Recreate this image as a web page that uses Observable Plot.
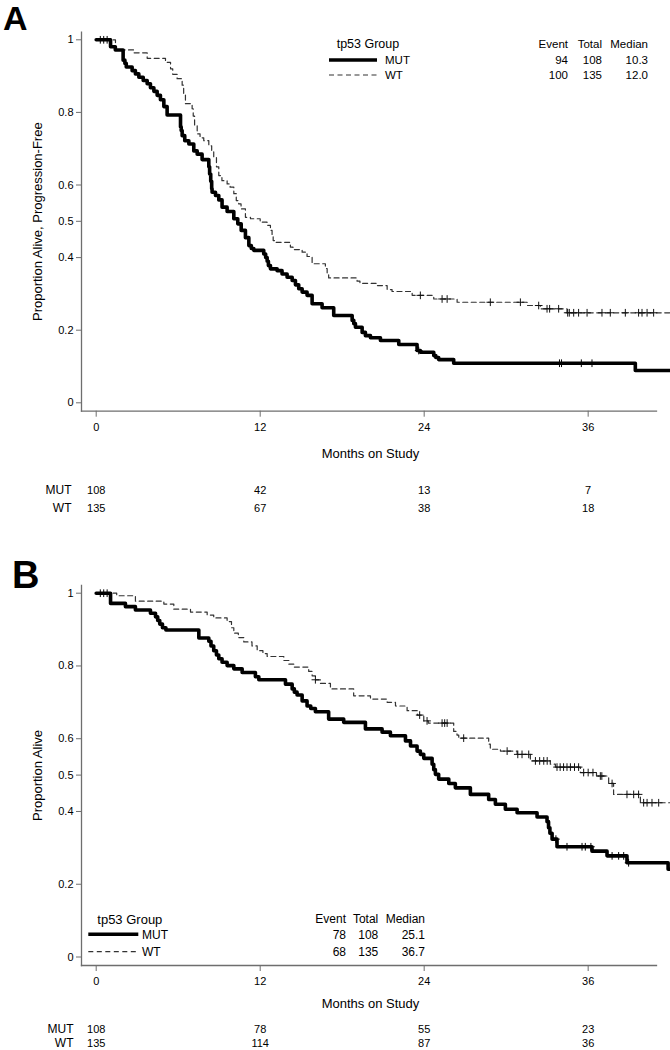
<!DOCTYPE html>
<html>
<head>
<meta charset="utf-8">
<script src="https://cdn.jsdelivr.net/npm/d3@7"></script>
<script src="https://cdn.jsdelivr.net/npm/@observablehq/plot@0.6"></script>
<style>
  body { margin: 0; background: #fff; }
  #wrap { position: relative; width: 670px; height: 1050px; overflow: hidden; background: #fff; }
  .panel { position: absolute; left: 0; width: 670px; height: 525px; }
  .letter { position: absolute; font-family: "Liberation Sans", Arial, sans-serif; font-weight: bold; line-height: 1; color: #000; }
</style>
</head>
<body>
<div id="wrap"></div>
<script>
// ---------------- data ----------------
const groups = ["MUT", "WT"];
const xTicks = [0, 12, 24, 36];
const yTicks = [0, 0.2, 0.4, 0.5, 0.6, 0.8, 1];
const xLabel = "Months on Study";
const yLabelA = "Proportion Alive, Progression-Free";
const yLabelB = "Proportion Alive";
const legendTitle = "tp53 Group";
const legendHeaders = ["Event", "Total", "Median"];

// Panel A: progression-free survival, [month, proportion]
const aMut = [[0,1],[1.05,0.981],[1.4,0.972],[1.97,0.944],[2.1,0.935],[2.2,0.925],[2.63,0.915],[2.87,0.906],[3.12,0.897],[3.44,0.888],[3.73,0.879],[3.97,0.868],[4.22,0.858],[4.46,0.847],[4.7,0.835],[4.95,0.816],[5.19,0.793],[6.17,0.76],[6.22,0.75],[6.29,0.736],[6.48,0.722],[6.78,0.713],[7.14,0.694],[7.39,0.685],[7.75,0.67],[8.24,0.65],[8.3,0.63],[8.38,0.61],[8.45,0.59],[8.48,0.58],[8.73,0.571],[8.97,0.559],[9.21,0.539],[9.58,0.527],[10.07,0.507],[10.36,0.493],[10.61,0.475],[10.92,0.455],[11.17,0.433],[11.35,0.425],[11.53,0.42],[12.26,0.41],[12.4,0.4],[12.51,0.39],[12.6,0.378],[12.75,0.369],[13.24,0.364],[13.6,0.355],[13.97,0.346],[14.34,0.337],[14.58,0.325],[14.82,0.314],[15.07,0.305],[15.43,0.296],[15.8,0.273],[16.53,0.262],[17.38,0.2405],[18.73,0.227],[18.85,0.218],[18.97,0.208],[19.46,0.194],[19.7,0.185],[20.07,0.179],[20.8,0.1716],[22.14,0.1606],[23.48,0.144],[23.72,0.1394],[24.7,0.13],[24.85,0.125],[25.06,0.119],[26.16,0.109],[39.45,0.089],[42,0.089]];
const aWt = [[0,1],[1.41,0.972],[2.75,0.964],[3.73,0.949],[5.07,0.938],[5.44,0.92],[5.6,0.905],[5.92,0.893],[6.29,0.875],[6.4,0.85],[6.53,0.824],[7.02,0.81],[7.1,0.79],[7.2,0.765],[7.39,0.741],[7.6,0.73],[7.87,0.722],[8.24,0.708],[8.45,0.695],[8.6,0.677],[8.8,0.65],[8.97,0.626],[9.2,0.612],[9.58,0.603],[9.8,0.594],[10.07,0.576],[10.25,0.557],[10.43,0.548],[10.6,0.534],[10.92,0.511],[11.29,0.507],[12.0,0.4975],[12.5,0.489],[12.75,0.475],[12.87,0.46],[12.95,0.447],[13.12,0.442],[14.21,0.429],[14.4,0.422],[15.07,0.415],[15.43,0.403],[15.8,0.383],[16.77,0.37],[16.9,0.355],[17.01,0.344],[19.09,0.335],[19.3,0.329],[20.56,0.323],[21.29,0.312],[21.65,0.3066],[23.12,0.296],[24.7,0.286],[26.41,0.277],[31.53,0.268],[32.5,0.259],[34.45,0.248],[42,0.248]];
const aMutCensor = [0.3, 0.55, 0.8, 23.6, 33.9, 34.05, 35.5, 36.28];
const aWtCensor = [23.72, 25.31, 25.68, 28.84, 31.04, 32.38, 32.99, 33.18, 33.84, 34.5, 34.62, 34.94, 35.3, 35.92, 37.01, 37.62, 38.72, 39.69, 39.94, 40.31, 40.79];
const aRiskMut = [108, 42, 13, 7];
const aRiskWt = [135, 67, 38, 18];
const aEvents = [94, 100];
const aTotals = [108, 135];
const aMedians = ["10.3", "12.0"];

// Panel B: overall survival, [month, proportion]
const bMut = [[0,1],[1.05,0.972],[2.14,0.963],[2.87,0.954],[3.97,0.945],[4.34,0.935],[4.5,0.925],[4.65,0.915],[4.85,0.905],[5.1,0.899],[7.51,0.877],[8.24,0.868],[8.4,0.855],[8.6,0.842],[8.8,0.83],[8.97,0.82],[9.21,0.81],[9.58,0.801],[10.07,0.792],[10.68,0.782],[11.65,0.7705],[11.9,0.762],[13.85,0.75],[14.34,0.737],[14.5,0.728],[14.7,0.72],[15.07,0.704],[15.43,0.69],[15.7,0.683],[16.04,0.674],[17.01,0.654],[18.11,0.645],[19.7,0.627],[20.92,0.618],[21.53,0.608],[22.63,0.594],[23.0,0.58],[23.48,0.566],[23.72,0.557],[23.97,0.546],[24.58,0.53],[24.7,0.515],[24.82,0.502],[25.06,0.489],[25.8,0.477],[26.28,0.465],[27.38,0.447],[28.72,0.433],[29.21,0.42],[29.94,0.406],[30.8,0.3965],[32.26,0.385],[32.99,0.372],[33.1,0.355],[33.2,0.34],[33.36,0.324],[33.72,0.303],[36.28,0.291],[37.38,0.278],[38.84,0.259],[41.85,0.241],[41.95,0.241]];
const bWt = [[0,1],[1.5,0.993],[2.87,0.978],[4.95,0.97],[5.68,0.956],[6.9,0.948],[8.12,0.94],[8.6,0.932],[9.58,0.922],[9.9,0.905],[10.07,0.89],[10.4,0.878],[10.8,0.866],[11.4,0.855],[11.78,0.842],[12.2,0.834],[12.51,0.826],[13.73,0.815],[14.1,0.805],[14.46,0.797],[15.55,0.785],[15.8,0.773],[16.04,0.762],[16.41,0.752],[17.14,0.737],[18.84,0.718],[20.07,0.709],[21.29,0.7],[21.9,0.69],[22.75,0.677],[23.5,0.665],[23.97,0.649],[24.3,0.643],[26.16,0.62],[26.4,0.61],[26.53,0.6016],[28.72,0.585],[28.84,0.571],[29.58,0.566],[30.8,0.557],[31.77,0.539],[33.23,0.53],[33.6,0.522],[35.43,0.507],[36.61,0.4975],[37.5,0.477],[37.86,0.447],[39.82,0.424],[42,0.424]];
const bMutCensor = [0.3, 0.55, 0.8, 33.64, 34.45, 35.55, 35.79, 36.2, 37.75, 38.23, 38.6, 38.96];
const bWtCensor = [16.04, 23.67, 24.21, 25.31, 25.5, 25.68, 26.89, 30.07, 30.85, 31.16, 31.65, 32.14, 32.45, 32.75, 33.0, 33.72, 33.95, 34.2, 34.45, 34.7, 35.0, 35.3, 35.67, 36.0, 36.35, 36.89, 37.0, 37.75, 38.84, 39.33, 39.69, 40.06, 40.31, 40.67, 41.16];
const bRiskMut = [108, 78, 55, 23];
const bRiskWt = [135, 114, 87, 36];
const bEvents = [78, 68];
const bTotals = [108, 135];
const bMedians = ["25.1", "36.7"];

// ---------------- drawing ----------------
const FONT = '"Liberation Sans", Arial, Helvetica, sans-serif';
const AXIS = "#6e6e6e";
const T = {textAnchor: "middle", lineAnchor: "middle", fill: "#000"};

const rows = pairs => pairs.map(([t, s]) => ({t, s}));
const survAt = (pairs, t) => { let s = pairs[0][1]; for (const [ti, si] of pairs) { if (ti <= t) s = si; else break; } return s; };
const censorRows = (times, pairs) => times.map(t => ({t, s: survAt(pairs, t)}));

function panel(cfg) {
  const g = cfg.geo;
  const riskM = xTicks.map((t, i) => ({t, n: cfg.riskMut[i]}));
  const riskW = xTicks.map((t, i) => ({t, n: cfg.riskWt[i]}));
  const svg = Plot.plot({
    width: 670, height: 525,
    marginLeft: 81, marginRight: 14, marginTop: g.mt, marginBottom: g.mb,
    insetLeft: 14.7, insetRight: 0, insetTop: g.it, insetBottom: g.ib,
    x: {domain: [0, 41]},
    y: {domain: [0, 1]},
    style: {fontFamily: FONT, fontSize: "11px", color: "#000", background: "#fff"},
    marks: [
      Plot.frame({anchor: "left", stroke: AXIS, strokeWidth: 1.3}),
      Plot.frame({anchor: "bottom", stroke: AXIS, strokeWidth: 1.3}),
      Plot.axisY(yTicks, {tickSize: 5, tickPadding: 3, tickFormat: d => String(d), stroke: AXIS, fill: "#000", fontSize: 11, label: null}),
      Plot.axisX(xTicks, {tickSize: 6, tickPadding: 6, stroke: AXIS, fill: "#000", fontSize: 11, label: null}),
      Plot.line(rows(cfg.wt), {x: "t", y: "s", curve: "step-after", stroke: "#333", strokeWidth: 1.2, strokeDasharray: "5,3.5"}),
      Plot.line(rows(cfg.mut), {x: "t", y: "s", curve: "step-after", stroke: "#000", strokeWidth: 3.6}),
      Plot.dot(censorRows(cfg.wtC, cfg.wt), {x: "t", y: "s", symbol: "plus", r: 2.6, stroke: "#111", strokeWidth: 1}),
      Plot.dot(censorRows(cfg.mutC, cfg.mut), {x: "t", y: "s", symbol: "plus", r: 2.6, stroke: "#000", strokeWidth: 1}),
      Plot.text([cfg.yLabel], {...T, frameAnchor: "left", rotate: -90, dx: -44, fontSize: 13}),
      Plot.text([xLabel], {...T, frameAnchor: "bottom", dy: g.xlab, dx: 1.5, fontSize: 13}),
      Plot.text(riskM, {...T, x: "t", text: "n", frameAnchor: "bottom", dy: g.r1, fontSize: 11}),
      Plot.text(riskW, {...T, x: "t", text: "n", frameAnchor: "bottom", dy: g.r2, fontSize: 11}),
      Plot.text([groups[0]], {...T, frameAnchor: "bottom-left", textAnchor: "end", dx: g.lx, dy: g.r1, fontSize: 12}),
      Plot.text([groups[1]], {...T, frameAnchor: "bottom-left", textAnchor: "end", dx: g.lx, dy: g.r2, fontSize: 12})
    ]
  });

  // legend block (swatches + table)
  const L = cfg.leg;
  const lg = d3.select(svg).append("g").attr("font-family", FONT).attr("fill", "#000").attr("text-anchor", "start");
  lg.append("text").attr("x", L.titleX).attr("y", L.y0).attr("dy", "0.35em").attr("text-anchor", "start").attr("font-size", L.titleSize).text(legendTitle);
  lg.append("line").attr("x1", L.sw0).attr("x2", L.sw1).attr("y1", L.y1).attr("y2", L.y1).attr("stroke", "#000").attr("stroke-width", 3.6);
  lg.append("line").attr("x1", L.sw0).attr("x2", L.sw1).attr("y1", L.y2).attr("y2", L.y2).attr("stroke", "#333").attr("stroke-width", 1.2).attr("stroke-dasharray", "5,3.5");
  groups.forEach((grp, i) => {
    lg.append("text").attr("x", L.labX).attr("y", i ? L.y2 : L.y1).attr("dy", "0.35em").attr("text-anchor", "start").attr("font-size", L.size).text(grp);
  });
  legendHeaders.forEach((h, j) => {
    lg.append("text").attr("x", L.cols[j]).attr("y", L.y0).attr("dy", "0.35em").attr("text-anchor", "end").attr("font-size", L.size).text(h);
  });
  const cols = [cfg.events, cfg.totals, cfg.medians];
  cols.forEach((vals, j) => {
    vals.forEach((v, i) => {
      lg.append("text").attr("x", L.cols[j]).attr("y", i ? L.y2 : L.y1).attr("dy", "0.35em").attr("text-anchor", "end").attr("font-size", L.size).text(v);
    });
  });
  return svg;
}

const wrap = document.getElementById("wrap");

function addPanel(top, svg, letter, lx, ly, lsize) {
  const div = document.createElement("div");
  div.className = "panel";
  div.style.top = top + "px";
  div.appendChild(svg);
  wrap.appendChild(div);
  const l = document.createElement("div");
  l.className = "letter";
  l.textContent = letter;
  l.style.left = lx + "px";
  l.style.top = ly + "px";
  l.style.fontSize = lsize + "px";
  wrap.appendChild(l);
}

const svgA = panel({
  mut: aMut, wt: aWt, mutC: aMutCensor, wtC: aWtCensor,
  riskMut: aRiskMut, riskWt: aRiskWt, yLabel: yLabelA,
  events: aEvents, totals: aTotals, medians: aMedians,
  geo: {mt: 31.7, it: 7.6, mb: 114.3, ib: 8.4, xlab: 42.3, r1: 78.8, r2: 97, lx: -10},
  leg: {titleX: 336.7, titleSize: 12.5, size: 11.5, y0: 44, y1: 60, y2: 75, sw0: 329, sw1: 377, labX: 385, cols: [568, 602, 648]}
});
addPanel(0, svgA, "A", 3, 1, 34);

const svgB = panel({
  mut: bMut, wt: bWt, mutC: bMutCensor, wtC: bWtCensor,
  riskMut: bRiskMut, riskWt: bRiskWt, yLabel: yLabelB,
  events: bEvents, totals: bTotals, medians: bMedians,
  geo: {mt: 60, it: 7.7, mb: 85, ib: 8.5, xlab: 38.3, r1: 63.5, r2: 77.5, lx: -8},
  leg: {titleX: 97.3, titleSize: 13, size: 12, y0: 394, y1: 409.3, y2: 426.7, sw0: 88.3, sw1: 138.3, labX: 142, cols: [346, 378.3, 425]}
});
addPanel(525, svgB, "B", 12, 556, 38);
</script>
</body>
</html>
